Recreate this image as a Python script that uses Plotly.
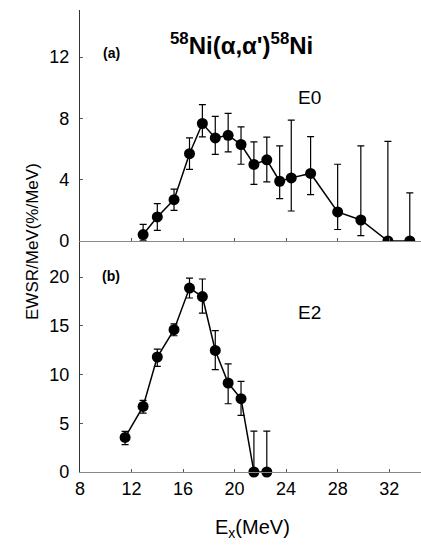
import plotly.graph_objects as go

# Panel (a): E0 strength
ex_a = [12.9, 14.0, 15.3, 16.5, 17.5, 18.5, 19.5, 20.5, 21.5, 22.5, 23.5, 24.4, 25.9, 28.0, 29.8, 31.9, 33.6]
ewsr_a = [0.42, 1.57, 2.7, 5.7, 7.67, 6.73, 6.9, 6.3, 5.0, 5.3, 3.9, 4.12, 4.41, 1.9, 1.37, 0.0, 0.0]
upper_a = [1.09, 2.44, 3.38, 6.73, 8.9, 8.13, 8.33, 7.45, 6.47, 6.78, 6.21, 7.89, 6.82, 5.01, 6.21, 6.5, 3.14]
lower_a = [0.05, 0.70, 2.0, 4.67, 6.8, 5.65, 5.82, 5.01, 3.7, 3.86, 2.77, 1.96, 3.03, 0.75, 0.35, 0.0, 0.0]

# Panel (b): E2 strength
ex_b = [11.5, 12.9, 14.0, 15.3, 16.5, 17.5, 18.5, 19.5, 20.5, 21.5, 22.5]
ewsr_b = [3.55, 6.73, 11.8, 14.6, 18.87, 18.0, 12.47, 9.13, 7.52, 0.0, 0.0]
upper_b = [4.16, 7.35, 12.6, 15.2, 19.9, 19.8, 14.5, 11.1, 9.3, 4.2, 4.2]
lower_b = [2.8, 6.05, 10.83, 13.98, 17.85, 16.3, 10.5, 7.0, 5.8, 0.0, 0.0]

x_ticks = [8, 12, 16, 20, 24, 28, 32]
y_ticks_a = [0, 4, 8, 12]
y_ticks_b = [0, 5, 10, 15, 20]

FONT = "Liberation Sans, Arial, sans-serif"

fig = go.Figure()

fig.add_trace(go.Scatter(
    x=ex_a, y=ewsr_a, xaxis="x2", yaxis="y2", mode="lines+markers",
    line=dict(color="black", width=1.5),
    marker=dict(color="black", size=11),
    error_y=dict(type="data", symmetric=False,
                 array=[u - v for u, v in zip(upper_a, ewsr_a)],
                 arrayminus=[v - l for v, l in zip(ewsr_a, lower_a)],
                 color="black", thickness=1.2, width=3.5),
    cliponaxis=True, showlegend=False))

fig.add_trace(go.Scatter(
    x=ex_b, y=ewsr_b, xaxis="x", yaxis="y", mode="lines+markers",
    line=dict(color="black", width=1.5),
    marker=dict(color="black", size=11),
    error_y=dict(type="data", symmetric=False,
                 array=[u - v for u, v in zip(upper_b, ewsr_b)],
                 arrayminus=[v - l for v, l in zip(ewsr_b, lower_b)],
                 color="black", thickness=1.2, width=3.5),
    cliponaxis=False, showlegend=False))

axis_common = dict(showgrid=False, zeroline=False, ticks="inside", ticklen=3,
                   tickcolor="#555", tickfont=dict(family=FONT, size=18, color="black"))

fig.update_layout(
    width=421, height=548,
    paper_bgcolor="white", plot_bgcolor="white",
    margin=dict(l=80, r=0, t=10, b=76),
    font=dict(family=FONT, color="black"),
    xaxis=dict(domain=[0, 1], range=[8, 34.47], anchor="y", tickvals=x_ticks,
               showline=True, linecolor="#888", linewidth=1, **axis_common),
    yaxis=dict(domain=[0, 0.5], range=[0, 23.7], anchor="x", tickvals=y_ticks_b,
               showline=True, linecolor="#333", linewidth=1.2, ticklabelstandoff=6, **axis_common),
    xaxis2=dict(domain=[0, 1], range=[8, 34.47], anchor="y2", matches="x", tickvals=x_ticks,
                showticklabels=False, showline=True, linecolor="#888", linewidth=1, **axis_common),
    yaxis2=dict(domain=[0.5, 1], range=[0, 15.08], anchor="x2", tickvals=y_ticks_a,
                showline=True, linecolor="#333", linewidth=1.2, ticklabelstandoff=6, **axis_common),
)

def px_to_paper(px, py):
    return (px - 80) / 341.0, (472 - py) / 462.0

annots = [
    ("<sup>58</sup>Ni(α,α')<sup>58</sup>Ni", 241, 44, 24, True, 0),
    ("(a)", 111, 53, 14, True, 0),
    ("(b)", 111, 276, 14, True, 0),
    ("E0", 309, 97, 19, False, 0),
    ("E2", 309, 312, 19, False, 0),
    ("E<sub>x</sub>(MeV)", 252, 528, 20, False, 0),
    ("EWSR/MeV(%/MeV)", 32, 241, 17, False, -90),
]
for text, px, py, size, bold, angle in annots:
    xp, yp = px_to_paper(px, py)
    fig.add_annotation(
        x=xp, y=yp, xref="paper", yref="paper", xanchor="center", yanchor="middle",
        text=f"<b>{text}</b>" if bold else text, showarrow=False, textangle=angle,
        font=dict(family=FONT, size=size, color="black"))

fig.write_html("out.html", config={"displayModeBar": False},
               post_script="document.body.style.margin='0';document.body.style.overflow='hidden';")
